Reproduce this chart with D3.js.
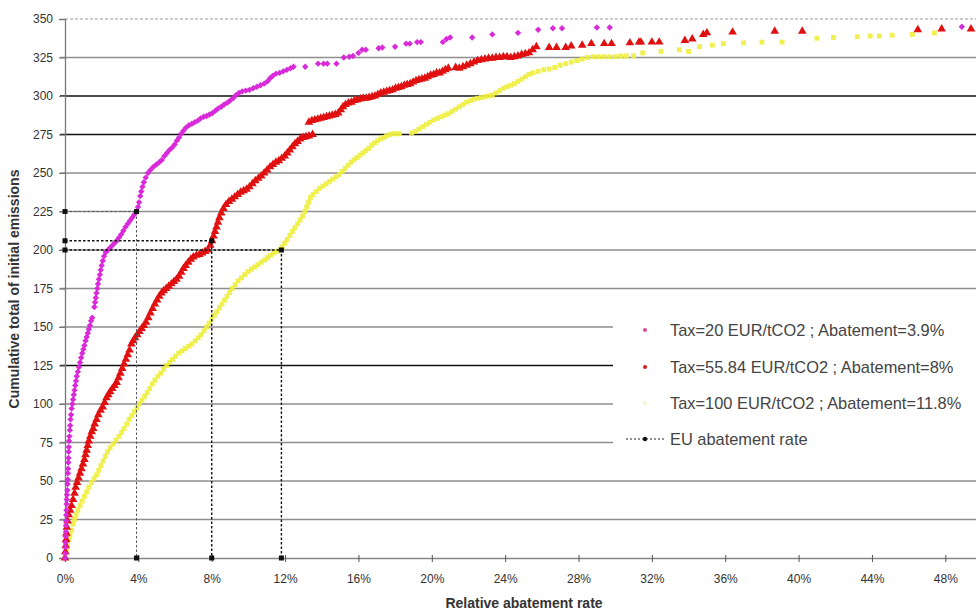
<!DOCTYPE html>
<html>
<head>
<meta charset="utf-8">
<script src="https://cdn.jsdelivr.net/npm/d3@7"></script>
<style>
  html, body { margin: 0; padding: 0; background: #fff; }
  svg { display: block; font-family: "Liberation Sans", Arial, sans-serif; }
</style>
</head>
<body>
<svg id="chart" width="976" height="612"></svg>
<script>
// Cumulative initial emissions vs. relative abatement rate, three tax levels.
// Each pair: [abatement rate in %, cumulative total of initial emissions]
const tax20 = [
  [0,0],[0.01,3],[0.02,7],[0.03,10],[0.04,14],[0.05,17],[0.05,21],[0.06,24],[0.07,28],[0.08,31],
  [0.09,35],[0.10,38],[0.11,41],[0.13,44],[0.14,48],[0.15,51],[0.16,55],[0.17,58],[0.18,62],[0.19,65],
  [0.20,69],[0.21,72],[0.22,76],[0.24,79],[0.26,83],[0.28,86],[0.30,90],[0.33,93],[0.36,97],[0.40,100],
  [0.44,103],[0.48,106],[0.52,109],[0.56,112],[0.60,115],[0.64,118],[0.70,121],[0.76,124],[0.82,127],
  [0.88,130],[0.94,133],[1.00,135.5],[1.06,138],[1.12,141],[1.18,143.5],[1.24,146],[1.30,148.5],
  [1.36,151],[1.42,154],[1.48,156],[1.60,163],[1.64,166],[1.68,169],[1.72,172],[1.76,175],[1.80,178],
  [1.85,181],[1.90,184],[1.95,187],[2.00,190],[2.06,193],[2.13,196],[2.22,198.5],[2.34,200],[2.46,201.5],
  [2.58,203],[2.70,204.5],[2.82,206],[2.94,208],[3.06,210],[3.18,212.5],[3.30,215],[3.42,217],[3.54,219],
  [3.66,221],[3.78,223],[3.90,225],[3.98,228],[4.04,231],[4.10,235],[4.16,238],[4.22,241],[4.30,244],
  [4.40,247],[4.52,250],[4.66,252],[4.82,254],[4.98,255.5],[5.14,257],[5.28,258.5],[5.42,261],[5.56,263],
  [5.70,265],[5.84,266.5],[5.98,268.5],[6.10,271],[6.22,273],[6.34,275.5],[6.46,277.5],[6.60,279.5],
  [6.76,281],[6.92,282],[7.08,283],[7.24,284],[7.40,285.5],[7.56,286.5],[7.72,287],[7.88,288],[8.04,289],
  [8.20,290.5],[8.36,292],[8.52,293],[8.68,294.5],[8.84,295.5],[9.00,297],[9.16,298.5],[9.32,300.5],
  [9.48,302],[9.66,303],[9.86,303.5],[10.06,304],[10.26,305],[10.46,306],[10.66,307],[10.86,308],
  [11.04,309.5],[11.18,311.5],[11.32,313],[11.50,314.5],[11.70,315],[11.90,316],[12.10,317],[12.30,318],
  [12.46,319],[13.1,319],[13.8,321],[14.1,321],[14.3,321],[14.8,321],[15.2,325],[15.5,325.5],[15.7,326],
  [16.0,328],[16.2,330],[16.4,330],[17.1,331],[17.3,331.5],[18.0,332],[18.6,334],[18.8,334],[19.2,335],
  [19.4,335],[20.6,335],[20.8,337],[21.0,338],[22.2,338],[23.3,340],[24.7,341],[25.8,343],[26.6,344],
  [27.1,344],[29.0,344.5],[29.7,344.5],[48.9,345]
];

const tax5584 = [
  [0,0],[0.02,4],[0.04,8],[0.06,12],[0.08,16],[0.10,20],[0.14,24],[0.20,28],[0.28,31],[0.36,34],
  [0.44,38],[0.52,42],[0.58,46],[0.66,49],[0.74,52],[0.82,55],[0.90,58],[0.98,61],[1.06,64],[1.12,67],
  [1.18,70],[1.24,73],[1.30,76],[1.38,79],[1.46,82],[1.54,84],[1.62,87],[1.72,90],[1.82,93],[1.94,96],
  [2.06,98],[2.16,101],[2.26,104],[2.36,106],[2.46,108],[2.58,110],[2.70,112],[2.82,114],[2.92,117],
  [3.02,120],[3.12,123],[3.22,126],[3.32,129],[3.42,132],[3.52,135],[3.62,139],[3.72,141],[3.82,143],
  [3.94,145],[4.06,147],[4.18,149],[4.30,151],[4.42,153],[4.54,156],[4.66,159],[4.78,162],[4.90,165],
  [5.02,167.5],[5.14,170],[5.26,172],[5.38,173.5],[5.52,175],[5.66,176.5],[5.80,178],[5.94,179.5],
  [6.08,181],[6.22,183],[6.34,185.5],[6.46,188],[6.58,190],[6.72,192],[6.86,194],[7.00,195.5],[7.16,196.5],
  [7.32,197],[7.48,198],[7.64,199],[7.80,200],[7.92,203],[8.02,206],[8.10,209],[8.18,212],[8.26,215],
  [8.34,218],[8.42,221],[8.52,224],[8.64,227],[8.78,229.5],[8.94,231.5],[9.10,233],[9.26,234.5],
  [9.42,236],[9.58,237.5],[9.74,238.5],[9.90,239.5],[10.06,241],[10.22,243],[10.38,245],[10.54,246.5],
  [10.70,248],[10.86,250],[11.02,252],[11.18,254],[11.34,255.5],[11.50,257],[11.66,258],[11.82,259.5],
  [11.98,261],[12.12,263],[12.26,265],[12.40,267],[12.54,269],[12.68,270.5],[12.82,272],[12.98,273],
  [13.14,273.5],[13.30,274],[13.50,275],[13.30,283],[13.46,284],[13.62,284.5],[13.78,285],[13.94,285.5],
  [14.10,286],[14.26,286.5],[14.42,287],[14.58,287.5],[14.74,288],[14.90,289],[15.04,291],[15.16,293],
  [15.30,294.5],[15.46,295.5],[15.62,296],[15.78,297],[15.94,297.5],[16.10,298],[16.26,298.5],[16.42,298.5],
  [16.58,299],[16.74,299.5],[16.90,300],[17.06,301],[17.22,302],[17.38,302.5],[17.54,303],[17.70,303.5],
  [17.86,304],[18.02,305],[18.18,305.5],[18.34,306],[18.50,307],[18.66,307.5],[18.82,308],[18.98,309],
  [19.14,310],[19.30,310.5],[19.46,311],[19.62,311.5],[19.78,312.5],[19.94,313.5],[20.10,314],[20.26,315],
  [20.42,315],[20.58,316],[20.74,317],[20.90,318],[21.3,318.5],[21.5,318],[21.7,319],[21.9,320],[22.1,321],
  [22.3,322],[22.5,323],[22.7,323.5],[22.9,324],[23.1,324.5],[23.3,324.5],[23.5,325],[23.7,325],[23.9,325.5],
  [24.1,325.5],[24.3,325],[24.5,325.5],[24.7,326],[24.9,327],[25.1,327.5],[25.3,328],[25.5,330],[25.7,332],
  [26.4,331.5],[26.8,331.5],[27.3,331.5],[27.6,332.5],[28.2,333],[28.7,334],[29.4,334],[29.8,334],
  [30.8,334.5],[31.3,335],[31.4,335],[32.0,335],[32.4,335],[33.8,336],[34.2,337],[34.8,340],[35.0,341],
  [36.4,341.5],[38.7,342],[40.2,342],[46.5,343],[47.8,343.5],[49.4,343.5]
];

const tax100 = [
  [0,0],[0.04,3],[0.08,6],[0.14,9],[0.20,12],[0.27,15],[0.36,18],[0.44,22],[0.52,25],[0.60,28],
  [0.70,31],[0.82,34],[0.94,37],[1.06,40],[1.18,43],[1.30,46],[1.44,49],[1.58,51.5],[1.72,54],[1.84,57],
  [1.96,60],[2.08,63],[2.20,66],[2.32,69],[2.46,71.5],[2.62,74],[2.78,76.5],[2.94,79],[3.08,81.5],
  [3.22,84],[3.36,87],[3.50,90],[3.64,92.5],[3.78,95],[3.92,97.5],[4.06,100],[4.20,102.5],[4.34,105],
  [4.48,107.5],[4.62,110],[4.76,113],[4.90,115.5],[5.06,118],[5.22,120],[5.38,122.5],[5.54,125],
  [5.70,127],[5.86,129],[6.02,131],[6.20,133],[6.38,134.5],[6.56,136],[6.74,137.5],[6.92,139],[7.10,141],
  [7.26,143],[7.42,145],[7.58,147.5],[7.72,150],[7.86,152.5],[8.00,155],[8.14,157.5],[8.28,160],
  [8.42,162.5],[8.56,165],[8.70,167.5],[8.84,170],[8.98,172.5],[9.12,175],[9.28,177.5],[9.44,180],
  [9.62,182],[9.80,184],[9.98,186],[10.16,187.5],[10.34,189],[10.52,190.5],[10.70,192],[10.88,193.5],
  [11.04,195],[11.20,196.5],[11.36,198],[11.52,199],[11.68,200],[11.84,202],[11.98,204.5],[12.12,207],
  [12.26,209.5],[12.40,212],[12.54,214.5],[12.68,217],[12.82,219.5],[12.96,222],[13.08,225],[13.18,228],
  [13.28,231],[13.38,234],[13.52,236],[13.70,238],[13.88,240],[14.06,241.5],[14.24,243],[14.42,244.5],
  [14.60,246],[14.78,247.5],[14.96,249],[15.12,251],[15.28,253],[15.44,255],[15.60,257],[15.76,258.5],
  [15.92,260],[16.08,261.5],[16.24,263],[16.40,264.5],[16.56,266],[16.72,268],[16.88,269.5],[17.04,271],
  [17.20,272],[17.36,273],[17.52,274],[17.70,275],[17.88,275.5],[18.06,275.5],[18.24,275.5],[18.9,276],
  [19.1,277],[19.3,278.5],[19.5,280],[19.7,281.5],[19.9,283],[20.1,284.5],[20.3,285.5],[20.5,286.5],
  [20.7,287.5],[20.9,288.5],[21.1,290],[21.3,291.5],[21.5,293],[21.7,294.5],[21.9,296],[22.1,297],
  [22.3,298],[22.5,298.5],[22.7,299],[22.9,299.5],[23.1,300],[23.3,300.5],[23.5,302],[23.7,303.5],
  [23.9,305],[24.1,306],[24.3,307],[24.5,308],[24.7,309.5],[24.9,311],[25.1,312.5],[25.3,314],[25.5,315],
  [25.8,316],[26.1,317],[26.4,317.5],[26.7,318.5],[27.0,320],[27.3,321],[27.6,322],[27.9,323],[28.2,324],
  [28.5,325],[28.8,325.5],[29.1,325.5],[29.4,325.5],[29.7,325.5],[30.0,325.5],[30.3,326],[30.6,326],
  [31.0,326],[31.5,328],[32.5,329],[33.5,330],[34.0,329],[34.6,332],[35.3,333],[35.9,334],[37.0,334.5],
  [38.0,335],[39.1,335],[41.0,337.5],[41.9,338],[43.2,338.5],[43.9,339],[44.4,339],[45.1,339.5],
  [46.2,340],[47.4,341]
];

const seriesLabels = [
  "Tax=20 EUR/tCO2 ; Abatement=3.9%",
  "Tax=55.84 EUR/tCO2 ; Abatement=8%",
  "Tax=100 EUR/tCO2 ; Abatement=11.8%"
];
const euLabel = "EU abatement rate";

// EU abatement rate reference points: [rate %, emissions level]
const euRates = [3.9, 8, 11.8];
const euLevels = [225, 206, 200];

const xTicks = [0, 4, 8, 12, 16, 20, 24, 28, 32, 36, 40, 44, 48];
const yTicks = [0, 25, 50, 75, 100, 125, 150, 175, 200, 225, 250, 275, 300, 325, 350];
const darkGrid = [125, 275, 300];

const svg = d3.select("#chart");
const W = 976, H = 612;

const x = d3.scaleLinear().domain([0, 50]).range([65, 982]);
const y = d3.scaleLinear().domain([0, 350]).range([558, 19]);

svg.append("rect").attr("width", W).attr("height", H).attr("fill", "#fff");

// horizontal gridlines
const grid = svg.append("g");
yTicks.filter(v => v > 0 && v < 350).forEach(v => {
  const dark = darkGrid.includes(v);
  grid.append("line")
    .attr("x1", 60).attr("x2", W)
    .attr("y1", y(v)).attr("y2", y(v))
    .attr("stroke", dark ? "#111" : "#8e8e8e")
    .attr("stroke-width", dark ? 1.6 : 1.3);
});
// top border (dashed)
grid.append("line")
  .attr("x1", 65).attr("x2", W).attr("y1", y(350)).attr("y2", y(350))
  .attr("stroke", "#999").attr("stroke-width", 1.2).attr("stroke-dasharray", "3,2");

// Y axis
const yAxis = d3.axisLeft(y).tickValues(yTicks).tickSize(6).tickPadding(6).tickFormat(d3.format("d"));
const gy = svg.append("g").attr("transform", "translate(65,0)").call(yAxis);
gy.select(".domain").attr("stroke", "#777").attr("stroke-width", 1.3);
gy.selectAll(".tick line").attr("stroke", "#777");
gy.selectAll("text").attr("font-size", 12).attr("fill", "#333")
  .attr("font-family", "Liberation Sans, Arial, sans-serif");

// X axis
const xAxis = d3.axisBottom(x).tickValues(xTicks).tickSize(4).tickPadding(12).tickFormat(d => d + "%");
const gx = svg.append("g").attr("transform", "translate(0,558)").call(xAxis);
gx.select(".domain").attr("stroke", "#888").attr("stroke-width", 1.3);
gx.selectAll(".tick line").attr("stroke", "#555").attr("y1", -3).attr("y2", 4);
gx.selectAll("text").attr("font-size", 12).attr("fill", "#333")
  .attr("font-family", "Liberation Sans, Arial, sans-serif");

// Axis titles
svg.append("text")
  .attr("x", 524).attr("y", 608)
  .attr("text-anchor", "middle")
  .attr("font-size", 14).attr("font-weight", "bold").attr("fill", "#333")
  .text("Relative abatement rate");
svg.append("text")
  .attr("transform", "translate(19,289) rotate(-90)")
  .attr("text-anchor", "middle")
  .attr("font-size", 14).attr("font-weight", "bold").attr("fill", "#333")
  .text("Cumulative total of initial emissions");

// Legend background masks the gridlines behind it
svg.append("rect").attr("x", 613).attr("y", 307).attr("width", 370).attr("height", 156).attr("fill", "#fff");

// Series markers
const seriesStyles = [
  { data: tax100, color: "#eeee40", opacity: 0.9, symbol: d3.symbolSquare, size: 24 },
  { data: tax5584, color: "#e01010", opacity: 1, symbol: d3.symbolTriangle, size: 32 },
  { data: tax20, color: "#d92ad9", opacity: 1, symbol: d3.symbolDiamond2, size: 26 }
];
seriesStyles.forEach(s => {
  const sym = d3.symbol().type(s.symbol).size(s.size);
  svg.append("g").selectAll("path").data(s.data).join("path")
    .attr("d", sym)
    .attr("transform", d => `translate(${x(d[0])},${y(d[1])})`)
    .attr("fill", s.color)
    .attr("fill-opacity", s.opacity);
});

// EU abatement rate guides
const eu = svg.append("g");
euRates.forEach((r, i) => {
  const lv = euLevels[i];
  eu.append("path")
    .attr("d", `M${x(0)},${y(lv)}H${x(r)}V${y(0)}`)
    .attr("fill", "none").attr("stroke", i === 0 ? "#555" : "#111")
    .attr("stroke-width", i === 0 ? 1 : 1.4)
    .attr("stroke-dasharray", "2.5,2");
  [[0, lv], [r, lv], [r, 0]].forEach(p => {
    eu.append("rect")
      .attr("x", x(p[0]) - 2.5).attr("y", y(p[1]) - 2.5)
      .attr("width", 5).attr("height", 5).attr("fill", "#111");
  });
});

// Legend
const legendRows = [330, 367, 403, 439];
const legendColors = ["#e0489c", "#e01a1a", "#f6f6d0"];
const lg = svg.append("g").attr("font-family", "Liberation Sans, Arial, sans-serif");
seriesLabels.forEach((t, i) => {
  lg.append("circle").attr("cx", 645).attr("cy", legendRows[i]).attr("r", 2).attr("fill", legendColors[i]);
  lg.append("text").attr("x", 670).attr("y", legendRows[i]).attr("dy", "0.35em")
    .attr("font-size", 16.4).attr("fill", "#444").text(t);
});
lg.append("line").attr("x1", 626).attr("x2", 664).attr("y1", legendRows[3]).attr("y2", legendRows[3])
  .attr("stroke", "#222").attr("stroke-width", 1).attr("stroke-dasharray", "2,2");
lg.append("circle").attr("cx", 645).attr("cy", legendRows[3]).attr("r", 2.2).attr("fill", "#111");
lg.append("text").attr("x", 670).attr("y", legendRows[3]).attr("dy", "0.35em")
  .attr("font-size", 16.4).attr("fill", "#444").text(euLabel);
</script>
</body>
</html>
